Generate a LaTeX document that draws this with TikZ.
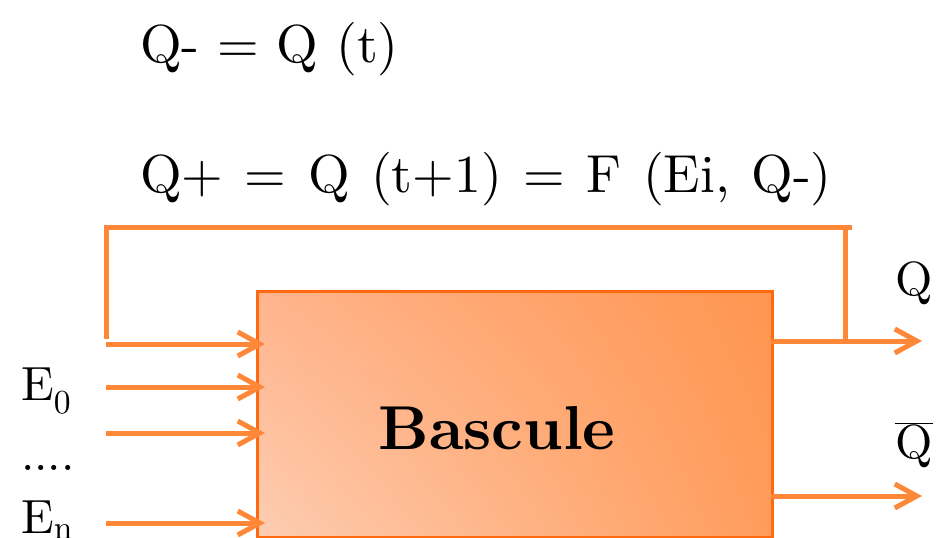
\documentclass[tikz,border=0pt]{standalone}
\usepackage{fontspec}
\setmainfont{lmroman10-regular.otf}[BoldFont=lmroman10-bold.otf, ItalicFont=lmroman10-italic.otf]
\usetikzlibrary{arrows.meta,shadings}
\definecolor{wire}{HTML}{FF8838}
\definecolor{boxline}{HTML}{FF6A10}
\definecolor{cUL}{HTML}{FFB48C}
\definecolor{cUR}{HTML}{FF9550}
\definecolor{cLL}{HTML}{FDCDB2}
\definecolor{cLR}{HTML}{FF9C5C}
\tikzset{
  wireline/.style={draw=wire, line width=5pt},
  arr/.style={wireline, -{Straight Barb[length=22pt,width=24pt,line width=5pt]}},
  lbl/.style={inner sep=0pt, font=\fontsize{48}{52}\selectfont},
  eq/.style={inner sep=0pt, anchor=base west, font=\fontsize{53.5}{60}\selectfont},
}
\begin{document}
\begin{tikzpicture}[x=1pt,y=-1pt]
\useasboundingbox (0,0) rectangle (938,538);
\clip (0,0) rectangle (938,538);
% box
\shade[upper left=cUL, upper right=cUR, lower left=cLL, lower right=cLR] (256,290) rectangle (771,536);
\node[draw=boxline, line width=3pt, minimum width=515pt, minimum height=246pt, inner sep=0pt, anchor=north west] (box) at (256,290) {};
\node[inner sep=0pt, font=\fontsize{62}{68}\selectfont\bfseries] (title) at (497,428) {Bascule};
% equations
\node[eq] (eq1) at (140,62) {Q- = Q (t)};
\node[eq] (eq2) at (140,192) {\spaceskip=21.5pt Q+ = Q (t+1) = F (Ei, Q-)};
% coordinates
\coordinate (i1s) at (106,344);
\coordinate (i2s) at (106,387);
\coordinate (i3s) at (106,433);
\coordinate (i4s) at (106,523);
\coordinate (i1e) at (265,344);
\coordinate (i2e) at (265,387);
\coordinate (i3e) at (265,433);
\coordinate (i4e) at (265,523);
\coordinate (qs) at (771,341);
\coordinate (qe) at (922,341);
\coordinate (qbs) at (771,496);
\coordinate (qbe) at (922,496);
\coordinate (fbj) at (845,341);
\coordinate (fbtr) at (845,227);
\coordinate (fbend) at (852,227);
\coordinate (fbtl) at (106,227);
\coordinate (fbbl) at (106,339);
% feedback
\draw[wireline] (fbj) -- (fbtr) -- (fbtl) -- (fbbl);
\draw[wireline] (fbtr) -- (fbend);
% inputs
\draw[arr] (i1s) -- (i1e);
\draw[arr] (i2s) -- (i2e);
\draw[arr] (i3s) -- (i3e);
\draw[arr] (i4s) -- (i4e);
% outputs
\draw[arr] (qs) -- (qe);
\draw[arr] (qbs) -- (qbe);
% labels
\node[lbl] (lq) at (914,283) {Q};
\node[lbl] (lqb) at (914,445) {$\overline{\mbox{Q}}$};
\node[lbl, anchor=base west] (le0) at (21,400) {E\textsubscript{0}};
\node[lbl, anchor=base west] (ldots) at (21,470) {....};
\node[lbl, anchor=base west] (len) at (21,533) {E\textsubscript{n}};
\end{tikzpicture}
\end{document}
